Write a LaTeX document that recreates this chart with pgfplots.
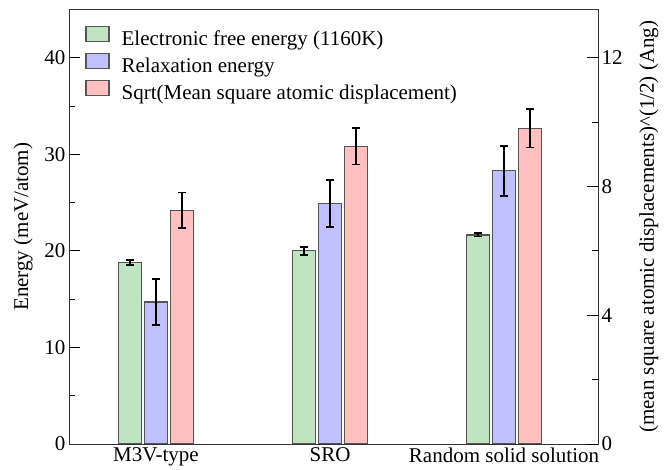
\documentclass[border=0pt]{standalone}
\usepackage{pgfplots}
\pgfplotsset{compat=1.18}
\usepackage{fontspec}
\setmainfont{Liberation Serif}
\definecolor{gfill}{RGB}{192,228,192}
\definecolor{bfill}{RGB}{192,192,255}
\definecolor{rfill}{RGB}{255,192,192}
\definecolor{edge}{RGB}{85,85,85}
\newcommand{\bigfont}{\rmfamily\fontsize{21}{25}\selectfont}
\pgfplotsset{
  common/.style={
    scale only axis, width=529pt, height=434.5pt,
    at={(0pt,0pt)}, anchor=south west,
    xmin=-0.5, xmax=2.54,
    tick align=inside,
    major tick length=11pt, minor tick length=6pt,
    tick style={line width=0.8pt, black},
    axis line style={line width=0.9pt, black!80},
    /pgf/number format/assume math mode=true,
    tick label style={font=\bigfont},
    label style={font=\bigfont},
  },
  ebar/.style={
    error bars/.cd, y dir=both, y explicit,
    error bar style={black, line width=1.8pt},
    error mark options={black, line width=1.8pt, mark size=4pt, rotate=90},
  },
}
\begin{document}
\begin{tikzpicture}
\useasboundingbox (-69pt,-26pt) rectangle (598pt,444pt);
\begin{axis}[common,
  ymin=0, ymax=45,
  ytick={0,10,20,30,40}, minor ytick={5,15,25,35},
  ytick pos=left,
  xtick={0,1,2},
  xticklabels={M3V-type,SRO,Random solid solution},
  x tick style={draw=none},
  ylabel={Energy (meV/atom)},
  ylabel style={yshift=5pt},
  legend style={draw=none, fill=none, at={(0.025,0.968)}, anchor=north west,
    font=\bigfont, legend cell align=left,
    row sep=0pt, column sep=10pt,
    nodes={inner xsep=2pt, inner ysep=2.5pt, text height=15pt, text depth=5pt}},
]
\addlegendimage{legend image code/.code={\draw[fill=gfill,draw=edge,line width=1.2pt] (0pt,-1pt) rectangle (23pt,14pt);}}
\addlegendentry{Electronic free energy (1160K)}
\addlegendimage{legend image code/.code={\draw[fill=bfill,draw=edge,line width=1.2pt] (0pt,-1pt) rectangle (23pt,14pt);}}
\addlegendentry{Relaxation energy}
\addlegendimage{legend image code/.code={\draw[fill=rfill,draw=edge,line width=1.2pt] (0pt,-1pt) rectangle (23pt,14pt);}}
\addlegendentry{Sqrt(Mean square atomic displacement)}

\addplot[forget plot, ybar, bar width=0.132, bar shift=0, fill=gfill, draw=edge, line width=1.2pt, ebar]
  coordinates {(-0.15,18.8) +- (0,0.25) (0.85,20.0) +- (0,0.4) (1.85,21.65) +- (0,0.17)};
\addplot[forget plot, ybar, bar width=0.132, bar shift=0, fill=bfill, draw=edge, line width=1.2pt, ebar]
  coordinates {(0,14.7) +- (0,2.35) (1,24.9) +- (0,2.45) (2,28.3) +- (0,2.6)};
\addplot[forget plot, ybar, bar width=0.132, bar shift=0, fill=rfill, draw=edge, line width=1.2pt, ebar]
  coordinates {(0.15,24.2) +- (0,1.85) (1.15,30.85) +- (0,1.9) (2.15,32.7) +- (0,2.0)};
\end{axis}
\begin{axis}[common,
  ymin=0, ymax=13.5,
  axis x line=none,
  axis y line*=right,
  ytick={0,4,8,12}, minor ytick={2,6,10},
  ylabel={(mean square atomic displacements)\textasciicircum(1/2) (Ang)},
  ylabel style={yshift=-10pt},
]
\addplot[draw=none, forget plot] coordinates {(0,0)};
\end{axis}
\end{tikzpicture}
\end{document}
